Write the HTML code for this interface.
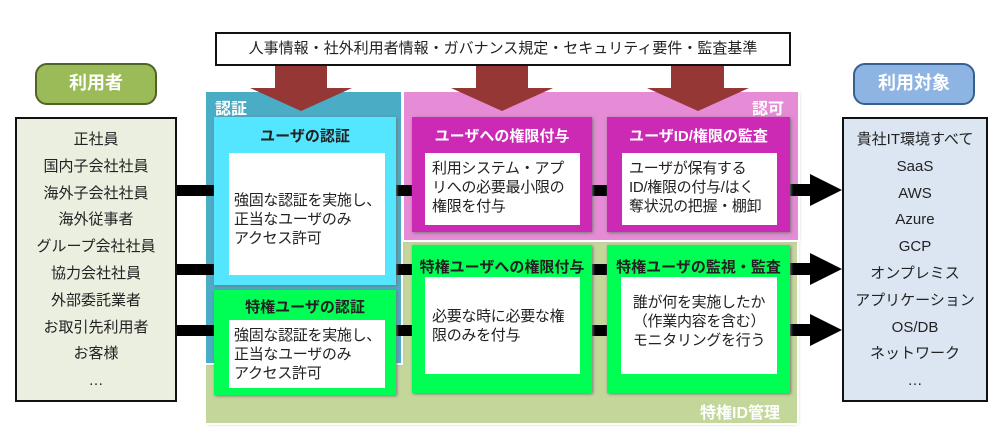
<!DOCTYPE html>
<html><head><meta charset="utf-8"><style>
body{margin:0;width:1000px;height:445px;background:#fff;position:relative;overflow:hidden;font-family:"Liberation Sans","Noto Sans CJK JP",sans-serif;color:#222}
div{position:absolute;box-sizing:border-box}
.w{background:#fff}
.t{font-weight:bold;font-size:15px;text-align:center;white-space:nowrap}
.b{font-size:15px;line-height:19px;white-space:nowrap;letter-spacing:-0.3px}
</style></head><body>
<!-- banner -->
<div style="left:215px;top:32px;width:576px;height:34px;border:2px solid #111;font-size:15px;text-align:center;line-height:30px">人事情報・社外利用者情報・ガバナンス規定・セキュリティ要件・監査基準</div>
<!-- pills -->
<div style="left:35px;top:63px;width:122px;height:42px;background:#9bbb59;border:2px solid #4f6228;border-radius:12px;color:#fff;font-weight:bold;font-size:18px;text-align:center;line-height:37px">利用者</div>
<div style="left:853px;top:63px;width:122px;height:42px;background:#8db4e2;border:2px solid #366092;border-radius:12px;color:#fff;font-weight:bold;font-size:18px;text-align:center;line-height:37px">利用対象</div>
<!-- left list -->
<div style="left:15px;top:117px;width:162px;height:285px;background:#ebefe0;border:2px solid #111;font-size:15px;text-align:center;line-height:26.8px;padding-top:8px">正社員<br>国内子会社社員<br>海外子会社社員<br>海外従事者<br>グループ会社社員<br>協力会社社員<br>外部委託業者<br>お取引先利用者<br>お客様<br>…</div>
<!-- right list -->
<div style="left:842px;top:117px;width:146px;height:285px;background:#dce6f2;border:2px solid #111;font-size:15px;text-align:center;line-height:26.8px;padding-top:8px">貴社IT環境すべて<br>SaaS<br>AWS<br>Azure<br>GCP<br>オンプレミス<br>アプリケーション<br>OS/DB<br>ネットワーク<br>…</div>
<!-- regions -->
<div style="left:206px;top:240px;width:591px;height:183px;background:#c4d79b;box-shadow:0 0 0 2px #fff,1px 1px 3px #aaa"></div>
<div style="left:206px;top:92px;width:195px;height:271px;background:#4bacc6;box-shadow:0 0 0 2px #fff,1px 1px 3px #aaa"></div>
<div style="left:404px;top:92px;width:394px;height:148px;background:#e68bd6;box-shadow:0 0 0 2px #fff,1px 1px 3px #aaa"></div>
<div style="left:215px;top:95px;color:#fff;font-weight:bold;font-size:16px">認証</div>
<div style="left:752px;top:95px;color:#fff;font-weight:bold;font-size:16px">認可</div>
<div style="left:700px;top:399px;color:#fff;font-weight:bold;font-size:16px">特権ID管理</div>
<svg style="position:absolute;left:0;top:0" width="1000" height="445">
<g fill="#953735">
<polygon points="275,66 327,66 327,88 352,88 301,111 250,88 275,88"/>
<polygon points="476,66 528,66 528,88 553,88 502,111 451,88 476,88"/>
<polygon points="671,66 724,66 724,88 749,88 698,111 647,88 671,88"/>
</g>
<g fill="#000">
<rect x="177" y="185" width="37" height="11"/><rect x="177" y="264" width="37" height="11"/><rect x="177" y="325" width="37" height="11"/>
<rect x="396" y="185" width="16" height="11"/><rect x="396" y="264" width="16" height="11"/><rect x="396" y="325" width="16" height="11"/>
<rect x="592" y="185" width="15" height="11"/><rect x="592" y="264" width="15" height="11"/><rect x="592" y="325" width="15" height="11"/>
<rect x="787" y="184" width="25" height="12"/><polygon points="810,174 842,190 810,206"/>
<rect x="787" y="263" width="25" height="12"/><polygon points="810,253 842,269 810,285"/>
<rect x="787" y="324" width="25" height="12"/><polygon points="810,314 842,330 810,346"/>
</g></svg>
<!-- cyan box -->
<div style="left:214px;top:117px;width:182px;height:168px;background:#55e6ff;box-shadow:1px 1px 3px #777"></div>
<div class="t" style="left:214px;top:125px;width:182px">ユーザの認証</div>
<div class="w b" style="left:229px;top:153px;width:156px;height:122px;padding:38px 0 0 5px">強固な認証を実施し、<br>正当なユーザのみ<br>アクセス許可</div>
<!-- green auth -->
<div style="left:214px;top:290px;width:182px;height:105px;background:#00ff55;box-shadow:1px 1px 3px #777"></div>
<div class="t" style="left:214px;top:296px;width:182px">特権ユーザの認証</div>
<div class="w b" style="left:229px;top:320px;width:156px;height:68px;padding:6px 0 0 5px">強固な認証を実施し、<br>正当なユーザのみ<br>アクセス許可</div>
<!-- magenta boxes -->
<div style="left:412px;top:117px;width:180px;height:115px;background:#cc2ab5;box-shadow:1px 1px 3px #777"></div>
<div class="t" style="left:412px;top:125px;width:180px;color:#fff">ユーザへの権限付与</div>
<div class="w b" style="left:425px;top:153px;width:155px;height:72px;padding:6px 0 0 7px">利用システム・アプ<br>リへの必要最小限の<br>権限を付与</div>
<div style="left:607px;top:117px;width:183px;height:115px;background:#cc2ab5;box-shadow:1px 1px 3px #777"></div>
<div class="t" style="left:607px;top:125px;width:183px;color:#fff">ユーザID/権限の監査</div>
<div class="w b" style="left:622px;top:153px;width:155px;height:72px;padding:6px 0 0 7px">ユーザが保有する<br>ID/権限の付与/はく<br>奪状況の把握・棚卸</div>
<!-- green boxes -->
<div style="left:412px;top:245px;width:180px;height:148px;background:#00ff55;box-shadow:1px 1px 3px #777"></div>
<div class="t" style="left:412px;top:256px;width:180px">特権ユーザへの権限付与</div>
<div class="w b" style="left:425px;top:277px;width:155px;height:97px;padding:30px 0 0 7px">必要な時に必要な権<br>限のみを付与</div>
<div style="left:607px;top:245px;width:183px;height:148px;background:#00ff55;box-shadow:1px 1px 3px #777"></div>
<div class="t" style="left:607px;top:256px;width:183px">特権ユーザの監視・監査</div>
<div class="w b" style="left:621px;top:277px;width:156px;height:97px;padding:16px 0 0 0;text-align:center">誰が何を実施したか<br>（作業内容を含む）<br>モニタリングを行う</div>
</body></html>
